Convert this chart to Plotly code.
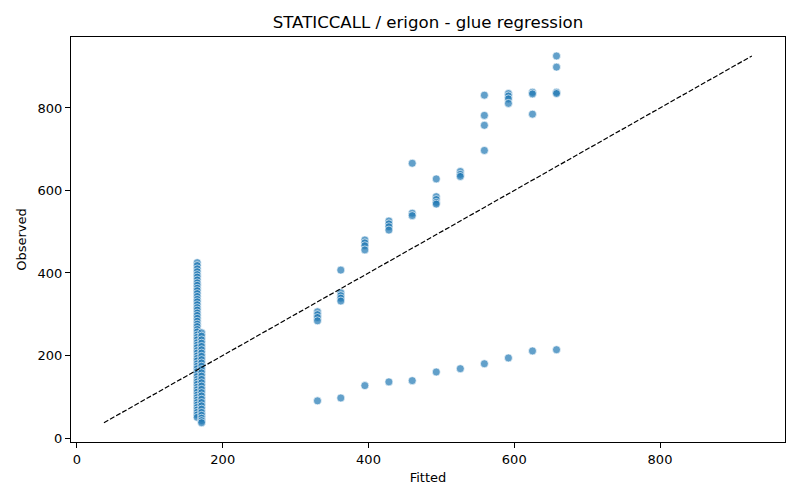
import plotly.graph_objects as go

# Cluster at low fitted values
fit_a = 165
obs_a = [425, 418, 410, 403, 396, 390, 383, 376, 370, 363, 357, 350, 343, 336, 330, 323,
         316, 310, 303, 297, 290, 283, 276, 270, 263, 257, 250, 244, 238, 231, 225, 219,
         212, 206, 199, 193, 187, 180, 174, 168, 161, 155, 149, 142, 136, 130, 123, 117,
         111, 104, 98, 92, 86, 80, 74, 68, 62, 56, 50]
fit_b = 171
obs_b = [255, 247, 238, 230, 222, 214, 206, 198, 190, 182, 174, 166, 158, 150, 142, 134,
         126, 118, 110, 102, 94, 86, 78, 70, 62, 55, 48, 42, 37]

# Upper branch
fit_up = [330, 330, 330, 330,
          362, 362, 362, 362, 362,
          395, 395, 395, 395,
          428, 428, 428, 428,
          460, 460, 460,
          493, 493, 493, 493, 493,
          526, 526, 526,
          559, 559, 559, 559,
          592, 592, 592, 592,
          625, 625, 625,
          658, 658, 658, 658]
obs_up = [306, 299, 292, 284,
          407, 352, 345, 339, 332,
          480, 473, 466, 456,
          526, 519, 512, 504,
          666, 545, 539,
          628, 585, 578, 571, 567,
          646, 639, 634,
          831, 782, 758, 697,
          835, 829, 822, 811,
          838, 834, 785,
          926, 899, 838, 835]

# Lower branch
fit_low = [330, 362, 395, 428, 460, 493, 526, 559, 592, 625, 658]
obs_low = [90, 97, 127, 136, 139, 160, 168, 180, 194, 211, 214]

fitted = [fit_a] * len(obs_a) + [fit_b] * len(obs_b) + fit_up + fit_low
observed = obs_a + obs_b + obs_up + obs_low

lo = min(min(fitted), min(observed))
hi = max(max(fitted), max(observed))

fig = go.Figure()
fig.add_trace(go.Scatter(
    x=fitted, y=observed, mode="markers",
    marker=dict(size=8, color="rgba(31,119,180,0.7)",
                line=dict(color="rgba(255,255,255,0.8)", width=0.8)),
    showlegend=False, hoverinfo="skip"))
fig.add_trace(go.Scatter(
    x=[lo, hi], y=[lo, hi], mode="lines",
    line=dict(color="black", width=1.2, dash="5px,2px"),
    showlegend=False, hoverinfo="skip"))

axis_common = dict(showgrid=False, zeroline=False, showline=True, linecolor="black",
                   linewidth=1, mirror=True, ticks="outside", ticklen=5, tickcolor="black",
                   automargin=False,
                   tickfont=dict(family="DejaVu Sans", size=13, color="black"))
fig.update_layout(
    width=784, height=484,
    margin=dict(l=63, r=7, t=29, b=50),
    plot_bgcolor="white", paper_bgcolor="white",
    title=dict(text="STATICCALL / erigon - glue regression", x=0.5, xref="paper",
               xanchor="center", y=0.971, yanchor="middle",
               font=dict(family="DejaVu Sans", size=16.6, color="black")),
    xaxis=dict(range=[-8.2, 971.5], tickvals=[0, 200, 400, 600, 800],
               title=dict(text="Fitted", font=dict(family="DejaVu Sans", size=13, color="black"),
                          standoff=7),
               **axis_common),
    yaxis=dict(range=[-9.7, 972], tickvals=[0, 200, 400, 600, 800],
               title=dict(text="Observed", font=dict(family="DejaVu Sans", size=13, color="black"),
                          standoff=8),
               **axis_common),
)
fig.write_html("out.html")
